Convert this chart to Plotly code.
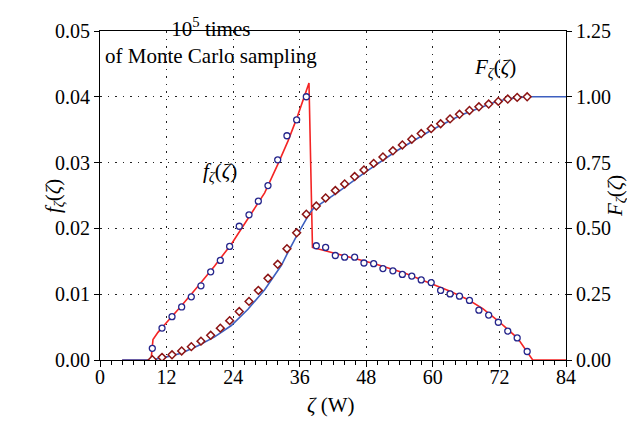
import plotly.graph_objects as go

# ---- data ----
# Monte Carlo histogram (pdf) points
mc_x = [9.43, 11.18, 12.98, 14.72, 16.46, 18.2, 19.95, 21.69, 23.37, 25.1, 26.86, 28.54,
        30.28, 32.03, 33.7, 35.45, 37.19, 38.99, 40.67, 42.42, 44.1, 45.9, 47.58, 49.33,
        51.0, 52.8, 54.5, 56.2, 57.9, 59.7, 61.4, 63.1, 64.8, 66.6, 68.3, 70.06, 71.8,
        73.5, 75.2, 77.0]
mc_pdf = [0.00178, 0.00485, 0.00658, 0.00806, 0.0096, 0.01128, 0.0134, 0.01513, 0.01726,
          0.02033, 0.02206, 0.02414, 0.02651, 0.03042, 0.03408, 0.0365, 0.04001, 0.01736,
          0.01711, 0.01588, 0.01563, 0.01563, 0.01474, 0.01464, 0.0139, 0.01355, 0.0130,
          0.01276, 0.01217, 0.01177, 0.01058, 0.01004, 0.0097, 0.00905, 0.00757, 0.00682,
          0.00574, 0.0044, 0.00336, 0.00129]
mc_cdf = [0.001, 0.01, 0.0197, 0.0345, 0.0507, 0.0717, 0.094, 0.121, 0.1496, 0.184,
          0.2226, 0.2646, 0.3103, 0.3635, 0.423, 0.4834, 0.554, 0.585, 0.6157, 0.644,
          0.669, 0.697, 0.722, 0.747, 0.7715, 0.795, 0.817, 0.839, 0.8605, 0.879, 0.8976,
          0.916, 0.9336, 0.948, 0.962, 0.9726, 0.9826, 0.9915, 0.9978, 1.0]

# analytical pdf curve
pdf_x = [4, 9.2, 9.55, 10.45, 11.36, 12.85, 14.65, 17.66, 20.66, 23.67, 26.67, 29.68,
         32.03, 33.9, 35.5, 37.67, 38.3, 44.0, 49.5, 55.0, 59.7, 63.0, 66.3, 69.0, 71.7,
         73.5, 75.3, 78.0, 84]
pdf_y = [0, 0, 0.0031, 0.0042, 0.0051, 0.0065, 0.0082, 0.0112, 0.0143, 0.0176, 0.0214,
         0.0254, 0.0297, 0.0333, 0.0368, 0.0421, 0.0171, 0.0158, 0.01464, 0.0132, 0.01167,
         0.0105, 0.0092, 0.0078, 0.0060, 0.0047, 0.0033, 0.0, 0.0]

# analytical cdf curve
cdf_x = [4, 9.2, 11.66, 14.65, 17.66, 20.66, 23.67, 26.67, 29.68, 32.7, 33.9, 35.4, 37.8,
         38.3, 42.9, 47.7, 53.5, 59.7, 65.0, 71.7, 75.0, 77.5, 84]
cdf_y = [0, 0, 0.01, 0.026, 0.054, 0.088, 0.131, 0.193, 0.267, 0.36, 0.41, 0.47, 0.558,
         0.572, 0.638, 0.712, 0.795, 0.873, 0.93, 0.984, 0.997, 1.0, 1.0]

x_ticks = [0, 12, 24, 36, 48, 60, 72, 84]
y1_ticks = [0.00, 0.01, 0.02, 0.03, 0.04, 0.05]
y2_ticks = [0.00, 0.25, 0.50, 0.75, 1.00, 1.25]

FONT = "Liberation Serif"
RED = "#f42424"
BLUE = "#3d5fbf"
NAVY = "#26268c"
DRED = "#8c1414"

W, H = 635, 423
L, R, T, B = 92, 77, 15, 71
pw, ph = W - L - R, H - T - B


def px2paper(px, py):
    return (px - L) / pw, (H - B - py) / ph


fig = go.Figure()
fig.add_trace(go.Scatter(x=pdf_x, y=pdf_y, mode="lines", line=dict(color=RED, width=1.6),
                         yaxis="y", showlegend=False))
fig.add_trace(go.Scatter(x=cdf_x, y=cdf_y, mode="lines", line=dict(color=BLUE, width=1.6),
                         yaxis="y2", showlegend=False))
fig.add_trace(go.Scatter(x=mc_x, y=mc_pdf, mode="markers",
                         marker=dict(symbol="circle", size=6, color="white",
                                     line=dict(color=NAVY, width=1.3)),
                         yaxis="y", showlegend=False))
fig.add_trace(go.Scatter(x=mc_x, y=mc_cdf, mode="markers",
                         marker=dict(symbol="diamond", size=6, color="white",
                                     line=dict(color=DRED, width=1.5)),
                         yaxis="y2", showlegend=False))

grid = dict(showgrid=True, gridcolor="#222", gridwidth=1, griddash="1.5px,6px")

fig.update_layout(
    width=W, height=H,
    margin=dict(l=L, r=R, t=T, b=B),
    paper_bgcolor="white", plot_bgcolor="white",
    font=dict(family=FONT, size=20, color="black"),
    xaxis=dict(range=[0, 84], tickvals=x_ticks, ticks="outside", ticklen=6,
               tickcolor="black", showline=True, linecolor="black", linewidth=1,
               mirror=True, zeroline=False, ticklabelstandoff=-7,
               minor=dict(dtick=2, ticks="outside", ticklen=4, tickcolor="black",
                          showgrid=False),
               **grid),
    yaxis=dict(range=[0, 0.05], tickvals=y1_ticks, tickformat=".2f", ticks="outside",
               ticklen=5, tickcolor="black", showline=True, linecolor="black",
               linewidth=1, zeroline=False, **grid),
    yaxis2=dict(range=[0, 1.25], tickvals=y2_ticks, tickformat=".2f", ticks="outside",
                ticklen=5, tickcolor="black", showline=True, linecolor="black",
                linewidth=1, overlaying="y", side="right", showgrid=False,
                zeroline=False),
)

fig.add_annotation(text="10<sup>5</sup> times<br>of Monte Carlo sampling",
                   x=20.0, y=0.0485, xref="x", yref="y", showarrow=False,
                   font=dict(family=FONT, size=21), align="center")
fig.add_annotation(text="<i>f</i><sub><i>ζ</i></sub>(<i>ζ</i>)", x=21.7, y=0.0285,
                   xref="x", yref="y", showarrow=False, font=dict(family=FONT, size=21))
fig.add_annotation(text="<i>F</i><sub><i>ζ</i></sub>(<i>ζ</i>)", x=71.2, y=1.11,
                   xref="x", yref="y2", showarrow=False, font=dict(family=FONT, size=21))

lx, ly = px2paper(31, 184)
fig.add_annotation(text="<i>f</i><sub><i>ζ</i></sub>(<i>ζ</i>)", x=lx, y=ly,
                   xref="paper", yref="paper", showarrow=False, textangle=-90,
                   font=dict(family=FONT, size=21))
rx, ry = px2paper(623, 184)
fig.add_annotation(text="<i>F</i><sub><i>ζ</i></sub>(<i>ζ</i>)", x=rx, y=ry,
                   xref="paper", yref="paper", showarrow=False, textangle=-90,
                   font=dict(family=FONT, size=21))
tx, ty = px2paper(323, 412)
fig.add_annotation(text="<i>ζ</i> (W)", x=tx, y=ty, xref="paper", yref="paper",
                   showarrow=False, font=dict(family=FONT, size=21))

fig.write_html("out.html")
